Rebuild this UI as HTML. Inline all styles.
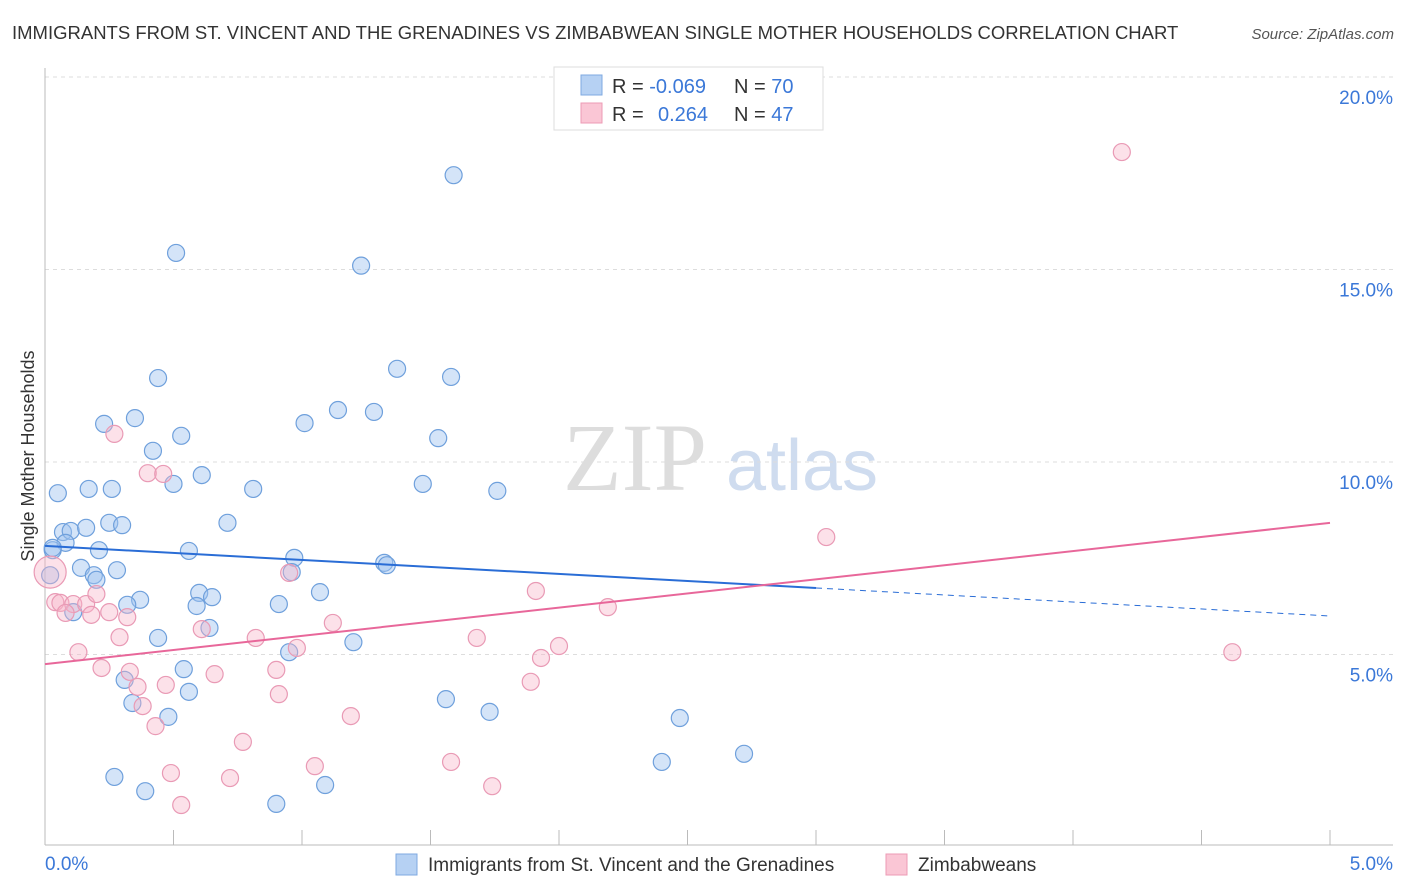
<!DOCTYPE html>
<html><head><meta charset="utf-8"><style>
body{margin:0;background:#fff;width:1406px;height:892px;overflow:hidden;font-family:"Liberation Sans",sans-serif;}
svg{position:absolute;left:0;top:0}
</style></head><body>
<svg id="c" width="1406" height="892">
<text x="12" y="39" font-size="18.5" fill="#333">IMMIGRANTS FROM ST. VINCENT AND THE GRENADINES VS ZIMBABWEAN SINGLE MOTHER HOUSEHOLDS CORRELATION CHART</text>
<text x="1394" y="39" font-size="15" fill="#555" text-anchor="end" font-style="italic">Source: ZipAtlas.com</text>
<g><text x="635" y="490" font-size="96" font-family="Liberation Serif,serif" fill="#ddd" text-anchor="middle">ZIP</text><text x="802" y="490" font-size="72" fill="#cfdcef" text-anchor="middle">atlas</text></g>
<text transform="translate(34,456) rotate(-90)" font-size="18" fill="#333" text-anchor="middle">Single Mother Households</text>
<g id="grid"></g><g id="ticks"></g><g id="pts"></g><g id="lines"></g>
<g>
<rect x="554" y="67" width="269" height="63" fill="#fff" stroke="#ddd"/>
<rect x="581" y="75" width="21" height="20" fill="#b6d1f3" stroke="#7fa9e0"/>
<rect x="581" y="103" width="21" height="20" fill="#fac6d5" stroke="#ec9bb5"/>
<text x="612" y="93" font-size="20" fill="#333">R = <tspan fill="#3b78d8">-0.069</tspan><tspan x="734">N = </tspan><tspan fill="#3b78d8">70</tspan></text>
<text x="612" y="121" font-size="20" fill="#333">R = <tspan x="658" fill="#3b78d8">0.264</tspan><tspan x="734">N = </tspan><tspan fill="#3b78d8">47</tspan></text>
</g>
<g>
<rect x="396" y="854" width="21" height="21" fill="#b6d1f3" stroke="#7fa9e0"/>
<text x="428" y="871" font-size="19" fill="#333">Immigrants from St. Vincent and the Grenadines</text>
<rect x="886" y="854" width="21" height="21" fill="#fac6d5" stroke="#ec9bb5"/>
<text x="918" y="871" font-size="19" fill="#333">Zimbabweans</text>
</g>
</svg>
<script>
const yTicks=[5,10,15,20];
const xTickLabels=["0.0%","5.0%"];
const blueX=[1.59,0.51,1.23,1.37,1.58,0.44,1.14,1.28,0.35,0.23,1.01,0.53,1.53,0.42,0.05,0.17,0.26,0.50,0.61,0.81,1.47,1.76,0.25,0.30,0.71,0.07,0.10,0.16,0.08,0.03,0.21,0.56,0.97,1.32,1.33,0.14,0.28,0.19,0.20,0.96,0.02,1.07,0.37,0.32,0.60,0.65,0.59,0.91,0.11,0.64,0.44,1.20,0.95,0.54,0.31,0.56,0.34,0.48,1.56,1.73,2.47,2.72,2.40,0.27,0.39,0.90,1.09,0.03];
const blueY=[17.45,15.43,15.10,12.42,12.21,12.18,11.35,11.30,11.14,10.99,11.01,10.68,10.62,10.29,9.19,9.30,9.30,9.43,9.66,9.30,9.43,9.25,8.42,8.36,8.42,8.18,8.21,8.29,7.90,7.71,7.71,7.69,7.51,7.38,7.32,7.25,7.19,7.06,6.94,7.14,7.06,6.62,6.42,6.29,6.60,6.49,6.26,6.31,6.10,5.69,5.43,5.32,5.06,4.62,4.34,4.03,3.74,3.38,3.84,3.51,3.35,2.42,2.21,1.82,1.45,1.12,1.61,7.77];
const pinkX=[4.19,3.04,4.62,0.27,0.40,0.46,0.95,1.91,2.19,0.04,0.06,0.11,0.16,0.20,0.08,0.18,0.25,0.32,0.29,0.61,0.82,1.12,0.98,1.68,2.00,1.93,0.13,0.22,0.33,0.66,0.90,0.36,0.47,1.89,0.91,0.38,0.43,1.19,0.77,0.49,0.72,1.05,1.58,0.53,1.74,0.02];
const pinkY=[18.05,8.05,5.06,10.73,9.71,9.69,7.12,6.65,6.23,6.36,6.34,6.31,6.31,6.57,6.08,6.03,6.10,5.97,5.45,5.66,5.43,5.82,5.17,5.43,5.22,4.91,5.06,4.65,4.55,4.49,4.60,4.16,4.21,4.29,3.97,3.66,3.14,3.40,2.73,1.92,1.79,2.10,2.21,1.09,1.58,7.14];
const blueTrend=[7.82,6.0]; const blueSolidEnd=3.0;
const pinkTrend=[4.75,8.42];
const NS="http://www.w3.org/2000/svg";
const X=v=>45+v*257, Y=v=>847-v*38.5;
function mk(p,t,a){const e=document.createElementNS(NS,t);for(const k in a)e.setAttribute(k,a[k]);document.getElementById(p).appendChild(e);return e;}
yTicks.forEach(t=>{
 const g=mk('grid','line',{x1:45,x2:1393,y1:Y(t),y2:Y(t),stroke:'#ddd','stroke-dasharray':'4,4'});
 
 
 const l=mk('grid','text',{x:1393,y:Y(t)+27,'font-size':19,fill:'#3b78d8','text-anchor':'end'});
 l.textContent=t.toFixed(1)+'%';
 
 
});
mk('ticks','line',{x1:45,x2:45,y1:68,y2:845,stroke:'#bbb'});
const ax=mk('ticks','line',{x1:45,x2:1393,y1:845,y2:845,stroke:'#bbb'});


for(let i=0;i<=10;i++){const t=mk('ticks','line',{x1:X(i*0.5),x2:X(i*0.5),y1:830,y2:845,stroke:'#bbb'});
 
 }
const x0=mk('ticks','text',{x:45,y:870,'font-size':19,fill:'#3b78d8'});x0.textContent=xTickLabels[0];


const x1=mk('ticks','text',{x:1393,y:870,'font-size':19,fill:'#3b78d8','text-anchor':'end'});x1.textContent=xTickLabels[1];


blueX.forEach((v,i)=>{const c=mk('pts','circle',{cx:X(v),cy:Y(blueY[i]),r:8.5,fill:'rgba(160,196,240,0.45)',stroke:'#6fa0dc','stroke-width':1.2});
 
 });
pinkX.forEach((v,i)=>{const c=mk('pts','circle',{cx:X(v),cy:Y(pinkY[i]),r:i==pinkX.length-1?16:8.5,fill:'rgba(248,180,200,0.4)',stroke:'#e99ab5','stroke-width':1.2});
 
 });
const by=x=>blueTrend[0]+(blueTrend[1]-blueTrend[0])*x/5;
const b1=mk('lines','line',{x1:X(0),y1:Y(by(0)),x2:X(blueSolidEnd),y2:Y(by(blueSolidEnd)),stroke:'#2a6dd6','stroke-width':2});


const b2=mk('lines','line',{x1:X(blueSolidEnd),y1:Y(by(blueSolidEnd)),x2:X(5),y2:Y(by(5)),stroke:'#2a6dd6','stroke-width':1,'stroke-dasharray':'6,5'});


const p1=mk('lines','line',{x1:X(0),y1:Y(pinkTrend[0]),x2:X(5),y2:Y(pinkTrend[1]),stroke:'#e8679a','stroke-width':2});


</script>
</body></html>
